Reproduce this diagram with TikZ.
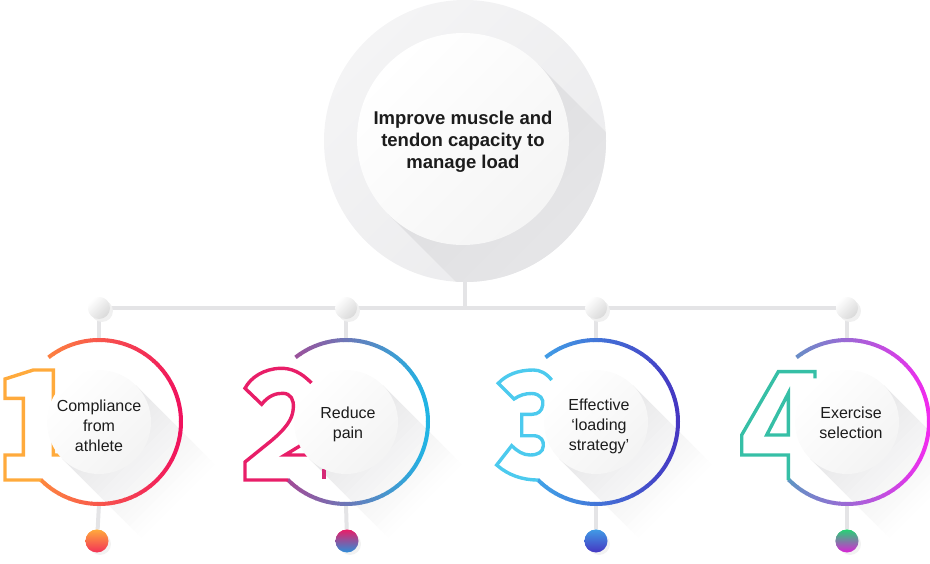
\documentclass[tikz,border=0pt]{standalone}
\usepackage{fontspec}
\setmainfont{Liberation Sans}
\usetikzlibrary{calc, positioning}
\definecolor{bgGrey}{HTML}{EBEBED}
\definecolor{bgLight}{HTML}{F4F4F5}
\definecolor{shGrey}{HTML}{DDDDDF}
\definecolor{lnGrey}{HTML}{E4E4E6}
\definecolor{txtDark}{HTML}{1C1C1C}
\definecolor{oneL}{HTML}{FF9A3A}
\definecolor{oneR}{HTML}{F0125E}
\definecolor{oneDig}{HTML}{FFAA3C}
\definecolor{twoL}{HTML}{B83A8A}
\definecolor{twoR}{HTML}{1FB5E5}
\definecolor{twoDig}{HTML}{E81E68}
\definecolor{thrL}{HTML}{40B4EE}
\definecolor{thrR}{HTML}{4536C2}
\definecolor{thrDig}{HTML}{4CCAEE}
\definecolor{fouL}{HTML}{48A5BD}
\definecolor{fouR}{HTML}{F22AEE}
\definecolor{fouDig}{HTML}{36BFA6}
\tikzset{
  connector/.style = {lnGrey, line width=4pt},
  knob/.style      = {circle, inner sep=0pt, minimum size=22pt,
                      top color=white, bottom color=gray!30, shading angle=45},
  dotmark/.style   = {circle, inner sep=0pt, minimum size=23pt, shading angle=45},
  ringspot/.style  = {circle, inner sep=0pt, minimum size=164pt},
  disc/.style      = {circle, inner sep=0pt, minimum size=104pt,
                      top color=white, bottom color=gray!9, shading angle=45},
  itemtext/.style  = {align=center, text=txtDark, font=\fontsize{16}{20}\selectfont},
  ring/.style      = {line width=4pt},
  digit/.style     = {line width=3.4pt, line join=miter},
}
% ring made of short arcs, colour running from left to right
\newcommand{\gradring}[3]{%
  \foreach \i in {0,...,65} {
    \pgfmathsetmacro{\angA}{-128+3.98485*\i}
    \pgfmathsetmacro{\angB}{\angA+4.4}
    \pgfmathtruncatemacro{\mixpct}{50+50*cos(\angA+2)}
    \draw[ring, color=#3!\mixpct!#2] (#1.center) ++(\angA:82)
      arc[start angle=\angA, end angle=\angB, radius=82];
  }}
% long shadow going down to the right, in thin slices that fade out
\newcommand{\longshadow}[3]{%
  \foreach \j in {0,...,19} {
    \pgfmathsetmacro{\posA}{#3*\j/20}
    \pgfmathsetmacro{\posB}{\posA+#3/20+0.4}
    \pgfmathtruncatemacro{\shpct}{72-\j*72/20}
    \fill[shGrey!\shpct!white] ($(#1)+(-45:#2)+(45:\posA)$) -- ($(#1)+(-45:#2)+(45:\posB)$)
      -- ($(#1)+(135:#2)+(45:\posB)$) -- ($(#1)+(135:#2)+(45:\posA)$) -- cycle;
  }}

\begin{document}
\begin{tikzpicture}[x=1pt, y=-1pt]
  \useasboundingbox (0,0) rectangle (930,564);
  % top circle
  \node[circle, inner sep=0pt, minimum size=282pt, top color=bgLight,
        bottom color=bgGrey, shading angle=45] (main) at (465,141) {};
  \begin{scope}
    \clip (main.center) circle (141);
    \shade[top color=shGrey, bottom color=bgGrey, shading angle=45]
      ($(463,139)+(-45:106)$) -- ++(45:220) -- ($(463,139)+(135:106)+(45:220)$)
      -- ($(463,139)+(135:106)$) -- cycle;
  \end{scope}
  \node[circle, inner sep=0pt, minimum size=212pt, top color=white,
        bottom color=gray!8, shading angle=45] (inner) at (463,139) {};
  \node[align=center, text=txtDark, font=\fontsize{18.5}{22}\selectfont\bfseries]
    (title) at (463,142) {Improve muscle and\\tendon capacity to\\manage load};

  % spots of the four items
  \node[ringspot] (r1) at (99,422) {};
  \node[ringspot] (r2) at (346,422) {};
  \node[ringspot] (r3) at (596,422) {};
  \node[ringspot] (r4) at (847,422) {};
  \node[knob] (k1) at (99,308) {};
  \node[knob] (k2) at (346,308) {};
  \node[knob] (k3) at (596,308) {};
  \node[knob] (k4) at (847,308) {};
  \node[dotmark, top color=oneDig, bottom color=oneR!80!oneDig] (d1) at (97,541) {};
  \node[dotmark, top color=twoDig, bottom color=twoR!70!thrR] (d2) at (347,541) {};
  \node[dotmark, top color=thrL!80!thrR, bottom color=thrR] (d3) at (596,541) {};
  \node[dotmark, top color=fouDig!70!green, bottom color=fouR!80!violet] (d4) at (847,541) {};

  % shadows
  \longshadow{r1.center}{52}{112}
  \longshadow{r2.center}{52}{112}
  \longshadow{r3.center}{52}{112}
  \longshadow{r4.center}{52}{112}

  % tree lines
  \coordinate (bar) at (main.south |- k1);
  \draw[connector] (main.south) -- (bar);
  \draw[connector] (k1) -- (k4);
  \draw[connector] (k1) -- (r1.north);  \draw[connector] (r1.south) -- (d1);
  \draw[connector] (k2) -- (r2.north);  \draw[connector] (r2.south) -- (d2);
  \draw[connector] (k3) -- (r3.north);  \draw[connector] (r3.south) -- (d3);
  \draw[connector] (k4) -- (r4.north);  \draw[connector] (r4.south) -- (d4);
  \fill[gray!12] ($(k1)+(3,3)$) circle (11);  \node[knob] at (k1) {};
  \fill[gray!12] ($(k2)+(3,3)$) circle (11);  \node[knob] at (k2) {};
  \fill[gray!12] ($(k3)+(3,3)$) circle (11);  \node[knob] at (k3) {};
  \fill[gray!12] ($(k4)+(3,3)$) circle (11);  \node[knob] at (k4) {};
  \fill[gray!10] ($(d1)+(3,3)$) circle (11);  \node[dotmark, top color=oneDig, bottom color=oneR!80!oneDig] at (d1) {};
  \fill[gray!10] ($(d2)+(3,3)$) circle (11);  \node[dotmark, top color=twoDig, bottom color=twoR!70!thrR] at (d2) {};
  \fill[gray!10] ($(d3)+(3,3)$) circle (11);  \node[dotmark, top color=thrL!80!thrR, bottom color=thrR] at (d3) {};
  \fill[gray!10] ($(d4)+(3,3)$) circle (11);  \node[dotmark, top color=fouDig!70!green, bottom color=fouR!80!violet] at (d4) {};

  % rings
  \gradring{r1}{oneL}{oneR}
  \gradring{r2}{twoL}{twoR}
  \gradring{r3}{thrL}{thrR}
  \gradring{r4}{fouL}{fouR}

  % outlined numbers
  \begin{scope}[shift={(r1.center)}]
    \draw[digit, oneDig] (-58,58) -- (-94,58) -- (-94,33) -- (-75.7,33)
      -- (-75.7,-23.7) -- (-94,-23.7) -- (-94,-43) -- (-65.7,-52)
      -- (-45.7,-52) -- (-45.7,33) -- (-20,33);
  \end{scope}
  \begin{scope}[shift={(r2.center)}]
    \draw[digit, twoDig] (-34.3,-38.7) .. controls (-45,-50) and (-55,-54) .. (-66,-53.7)
      .. controls (-82,-53) and (-95,-45) .. (-101,-33.7) -- (-84.3,-17.7)
      .. controls (-78,-26) and (-70,-29) .. (-63,-28.7)
      .. controls (-55,-28.5) and (-52,-22) .. (-52.7,-14)
      .. controls (-53,-2) and (-62,8) .. (-75,19) -- (-101,40) -- (-101,58) -- (-58,58);
    \draw[digit, twoDig] (-38,19) -- (-61,33) -- (-30,33);
    \draw[digit, twoDig!60!twoL] (-22,47) -- (-22,57);
  \end{scope}
  \begin{scope}[shift={(r3.center)}]
    \draw[digit, thrDig] (-44.3,-42) .. controls (-50,-49) and (-56,-52) .. (-62.7,-52)
      .. controls (-78,-52) and (-90,-47) .. (-97.7,-38.7) -- (-82,-23)
      .. controls (-76,-27) and (-71,-28.5) .. (-64,-28.5)
      .. controls (-56,-28) and (-52,-23) .. (-53.3,-17)
      .. controls (-54,-11) and (-58,-7.7) .. (-64,-7.7) -- (-74.3,-7.7) -- (-74.3,13.7)
      -- (-62,13.7) .. controls (-55,14) and (-52,19) .. (-52.7,24)
      .. controls (-53,30) and (-58,33) .. (-66,33)
      .. controls (-73,33) and (-79,29) .. (-84.3,23.7) -- (-99.3,43)
      .. controls (-88,53) and (-74,58) .. (-58,58);
  \end{scope}
  \begin{scope}[shift={(r4.center)}]
    \draw[digit, fouDig] (-32,-43.7) -- (-32,-50.3) -- (-68.7,-50.3) -- (-105.3,13)
      -- (-105.3,33) -- (-58.7,33) -- (-58.7,58);
    \draw[digit, fouDig] (-58.7,-28.7) -- (-80.3,13) -- (-58.7,13) -- cycle;
  \end{scope}

  % white discs with the items
  \node[disc] (c1) at (r1.center) {};
  \node[disc] (c2) at (r2.center) {};
  \node[disc] (c3) at (r3.center) {};
  \node[disc] (c4) at (r4.center) {};
  \node[itemtext] (t1) at ($(c1)+(0,4)$) {Compliance\\from\\athlete};
  \node[itemtext] (t2) at ($(c2)+(2,2)$) {Reduce\\pain};
  \node[itemtext] (t3) at ($(c3)+(3,4)$) {Effective\\‘loading\\strategy’};
  \node[itemtext] (t4) at ($(c4)+(4,1)$) {Exercise\\selection};
\end{tikzpicture}
\end{document}
